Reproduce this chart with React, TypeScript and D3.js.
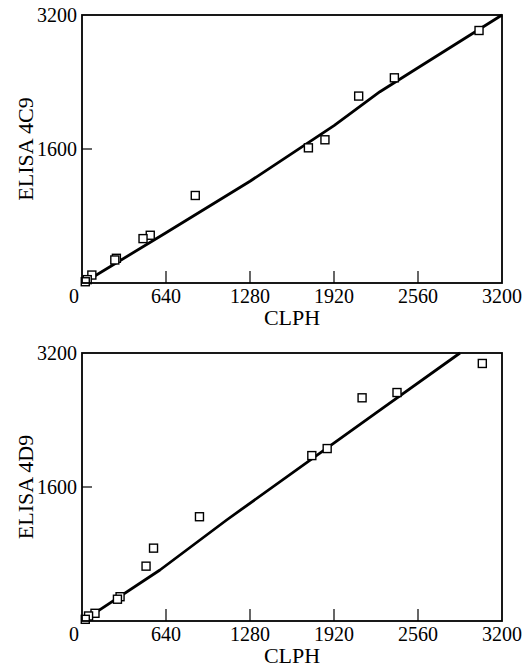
import React from "react";
import * as d3 from "d3";

// ---- data ----
const X_TICKS = [0, 640, 1280, 1920, 2560, 3200];
const Y_TICKS = [1600, 3200];

const CLPH_A = [3025, 2380, 2108, 1851, 1725, 863, 520, 465, 262, 250, 75, 40, 25];
const ELISA_4C9 = [3015, 2450, 2232, 1710, 1614, 1045, 570, 530, 295, 275, 95, 40, 15];
const FIT_A_X = [25, 640, 1280, 1920, 2270, 2560, 3200];
const FIT_A_Y = [15, 600, 1215, 1880, 2284, 2570, 3200];

const CLPH_B = [3050, 2400, 2134, 1868, 1751, 895, 545, 488, 290, 270, 99, 50, 25];
const ELISA_4D9 = [3075, 2728, 2665, 2059, 1975, 1245, 870, 655, 290, 260, 92, 60, 20];
const FIT_B_X = [25, 594, 1102, 1927, 2270, 2880];
const FIT_B_Y = [20, 609, 1206, 2133, 2519, 3200];

const FONT = "'Liberation Serif', 'Times New Roman', serif";

type PanelProps = {
  top: number;
  xs: number[];
  ys: number[];
  fx: number[];
  fy: number[];
  yTitle: string;
};

function Panel({ top, xs, ys, fx, fy, yTitle }: PanelProps) {
  const left = 82;
  const right = 502;
  const plotTop = top;
  const plotBottom = top + 268;
  const x = d3.scaleLinear().domain([0, 3200]).range([left, right]);
  const y = d3.scaleLinear().domain([0, 3200]).range([plotBottom, plotTop]);
  const pts = fx.map((v, i) => [v, fy[i]] as [number, number]);
  const line = d3
    .line<[number, number]>()
    .x((d) => x(d[0]))
    .y((d) => y(d[1]));
  const sq = 8;
  return (
    <g>
      <path d={line(pts) || ""} fill="none" stroke="#000" strokeWidth={2.8} strokeLinejoin="round" />
      {xs.map((v, i) => (
        <rect
          key={i}
          x={x(v) - sq / 2}
          y={y(ys[i]) - sq / 2}
          width={sq}
          height={sq}
          fill="#fff"
          stroke="#000"
          strokeWidth={1.4}
        />
      ))}
      <rect x={left} y={plotTop} width={right - left} height={plotBottom - plotTop} fill="none" stroke="#000" strokeWidth={1.8} />
      {X_TICKS.filter((t) => t > 0 && t < 3200).map((t) => (
        <line key={t} x1={x(t)} x2={x(t)} y1={plotBottom} y2={plotBottom - 12} stroke="#000" strokeWidth={1.2} />
      ))}
      {Y_TICKS.filter((t) => t < 3200).map((t) => (
        <line key={t} x1={left} x2={left + 10} y1={y(t)} y2={y(t)} stroke="#000" strokeWidth={1.2} />
      ))}
      {X_TICKS.map((t) => (
        <text
          key={t}
          x={t === 0 ? x(t) - 8 : x(t)}
          y={plotBottom + 20}
          textAnchor="middle"
          fontFamily={FONT}
          fontSize={20}
          fill="#000"
        >
          {t}
        </text>
      ))}
      {Y_TICKS.map((t) => (
        <text key={t} x={left - 5} y={y(t) + 7} textAnchor="end" fontFamily={FONT} fontSize={20} fill="#000">
          {t}
        </text>
      ))}
      <text x={(left + right) / 2} y={plotBottom + 42} textAnchor="middle" fontFamily={FONT} fontSize={22} fill="#000">
        CLPH
      </text>
      <text
        transform={`translate(33, ${(plotTop + plotBottom) / 2}) rotate(-90)`}
        textAnchor="middle"
        fontFamily={FONT}
        fontSize={22}
        fill="#000"
      >
        {yTitle}
      </text>
    </g>
  );
}

export default function App() {
  return (
    <svg width={532} height={668} style={{ position: "absolute", left: 0, top: 0, background: "#fff" }}>
      <rect width={532} height={668} fill="#fff" />
      <Panel top={15} xs={CLPH_A} ys={ELISA_4C9} fx={FIT_A_X} fy={FIT_A_Y} yTitle="ELISA 4C9" />
      <Panel top={353} xs={CLPH_B} ys={ELISA_4D9} fx={FIT_B_X} fy={FIT_B_Y} yTitle="ELISA 4D9" />
    </svg>
  );
}
